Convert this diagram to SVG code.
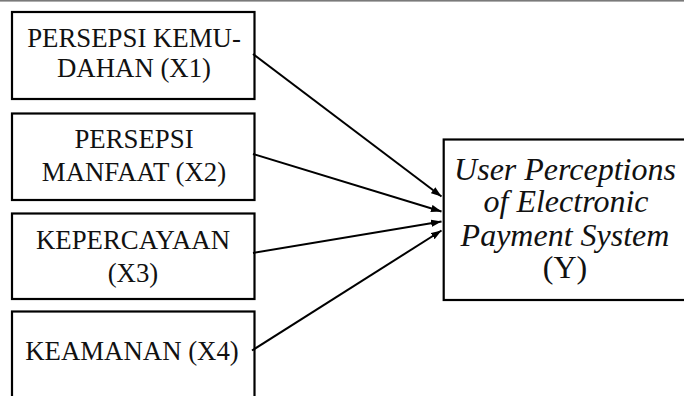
<svg xmlns="http://www.w3.org/2000/svg" width="684" height="396" viewBox="0 0 684 396">
  <style>
    .box { fill: #ffffff; stroke: #000000; stroke-width: 2.2; }
    .edge { stroke: #000000; stroke-width: 2; fill: none; marker-end: url(#arrow); }
  </style>
  <defs>
    <marker id="arrow" markerUnits="userSpaceOnUse" markerWidth="11" markerHeight="8" refX="10.5" refY="4" orient="auto">
      <path d="M0,0.3 L10.5,4 L0,7.7 z" fill="#000000"/>
    </marker>
  </defs>

  <rect x="0" y="0" width="684" height="396" fill="#ffffff"/>
  <rect x="0" y="0" width="684" height="1.6" fill="#7a7a7a"/>

  <!-- left-hand variables -->
  <g font-family="Liberation Serif, DejaVu Serif, serif" font-size="26.8" fill="#111111" text-anchor="middle">
    <g id="x1">
      <rect class="box" x="12" y="12" width="242.5" height="87"/>
      <text x="134" y="47">PERSEPSI KEMU-</text>
      <text x="134" y="76.5">DAHAN (X1)</text>
    </g>

    <g id="x2">
      <rect class="box" x="12" y="113.5" width="242.5" height="86.5"/>
      <text x="134" y="147.5">PERSEPSI</text>
      <text x="134" y="180.5">MANFAAT (X2)</text>
    </g>

    <g id="x3">
      <rect class="box" x="12" y="213.5" width="242.5" height="85.5"/>
      <text x="133" y="249">KEPERCAYAAN</text>
      <text x="133" y="282">(X3)</text>
    </g>

    <g id="x4">
      <rect class="box" x="12" y="311.5" width="242.5" height="100"/>
      <text x="132" y="360">KEAMANAN (X4)</text>
    </g>
  </g>

  <!-- dependent variable -->
  <g id="y" font-family="Liberation Serif, DejaVu Serif, serif" font-size="32" fill="#111111" text-anchor="middle">
    <rect class="box" x="443.7" y="139.5" width="260" height="160.5"/>
    <text x="565" y="179.5" font-style="italic">User Perceptions</text>
    <text x="566" y="212" font-style="italic">of Electronic</text>
    <text x="565" y="246" font-style="italic">Payment System</text>
    <text x="565" y="278">(Y)</text>
  </g>

  <g id="connectors">
    <line class="edge" x1="253" y1="54" x2="441.5" y2="196.5"/>
    <line class="edge" x1="253" y1="154" x2="441.5" y2="211.5"/>
    <line class="edge" x1="253" y1="253" x2="441.5" y2="221.5"/>
    <line class="edge" x1="252" y1="350.5" x2="441.5" y2="230.5"/>
  </g>
</svg>
